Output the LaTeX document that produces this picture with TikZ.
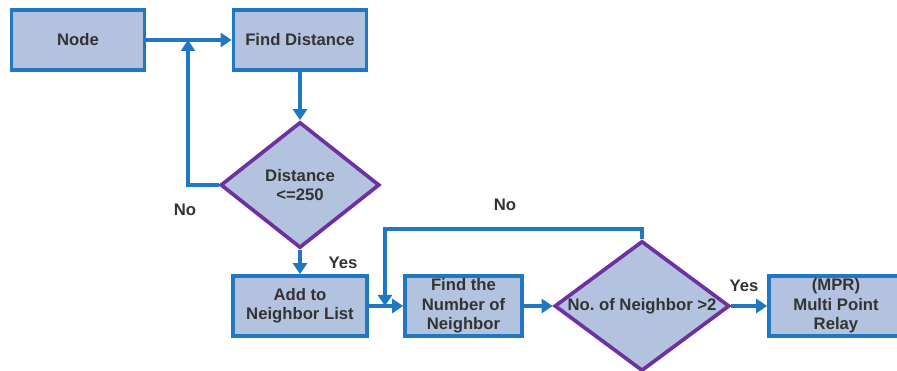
\documentclass[tikz,border=0pt]{standalone}
\usepackage{fontspec}
\setmainfont{Liberation Sans}
\usepackage{tikz}
\usetikzlibrary{shapes,arrows.meta,positioning,calc}
\usepackage{xcolor}
\definecolor{boxfill}{HTML}{B3C3DF}
\definecolor{boxline}{HTML}{1F78C1}
\definecolor{decline}{HTML}{7031A0}
\definecolor{txt}{HTML}{333333}

\begin{document}
\begin{tikzpicture}[
    font=\fontsize{9.5}{11}\selectfont\bfseries, text=txt,
    procbox/.style={rectangle, draw=boxline, fill=boxfill, line width=2.1pt,
        minimum width=2.66cm, minimum height=1.2cm, align=center, inner sep=1pt},
    decbox/.style={diamond, draw=decline, fill=boxfill, line width=2.1pt,
        align=center, inner sep=0pt},
    flow/.style={draw=boxline, line width=2.1pt,
        -{Triangle[length=2.2mm,width=2.8mm]}},
    lbl/.style={font=\fontsize{9.5}{11}\selectfont\bfseries}
]
    \useasboundingbox (0,0) rectangle (17.94,7.42);
    % Boxes
    \node[procbox] (node) at (1.56,6.62) {Node};
    \node[procbox] (finddist) at (6.0,6.62) {Find Distance};
    \node[decbox, minimum width=3.18cm, minimum height=2.52cm] (dist) at (6.0,3.72) {Distance\\<=250};
    \node[procbox, minimum width=2.68cm] (addlist) at (6.0,1.3) {Add to\\Neighbor List};
    \node[procbox, minimum width=2.34cm] (findnum) at (9.27,1.3) {Find the\\Number of\\Neighbor};
    \node[decbox, minimum width=3.5cm, minimum height=2.6cm] (numneigh) at (12.84,1.3) {\makebox[2cm]{No.\ of Neighbor >2}};
    \node[procbox, minimum width=2.68cm] (mpr) at (16.72,1.3) {(MPR)\\Multi Point\\Relay};
    % Joins on the lines
    \coordinate (join1) at (3.76,6.62);
    \coordinate (join2) at (7.7,1.3);
    % Arrows
    \draw[flow] (node) -- (finddist);
    \draw[flow] (finddist) -- (dist);
    \draw[flow] (dist.west) -| (join1);
    \draw[flow] (dist) -- (addlist);
    \draw[flow] (addlist) -- (findnum);
    \draw[flow] (numneigh.north) |- ++(0,0.2) -| (join2);
    \draw[flow] (findnum) -- (numneigh);
    \draw[flow] (numneigh) -- (mpr);
    % Labels
    \node[lbl] (no1) at (3.7,3.22) {No};
    \node[lbl] (no2) at (10.1,3.32) {No};
    \node[lbl] (yes1) at (6.86,2.16) {Yes};
    \node[lbl] (yes2) at (14.88,1.7) {Yes};
\end{tikzpicture}
\end{document}
